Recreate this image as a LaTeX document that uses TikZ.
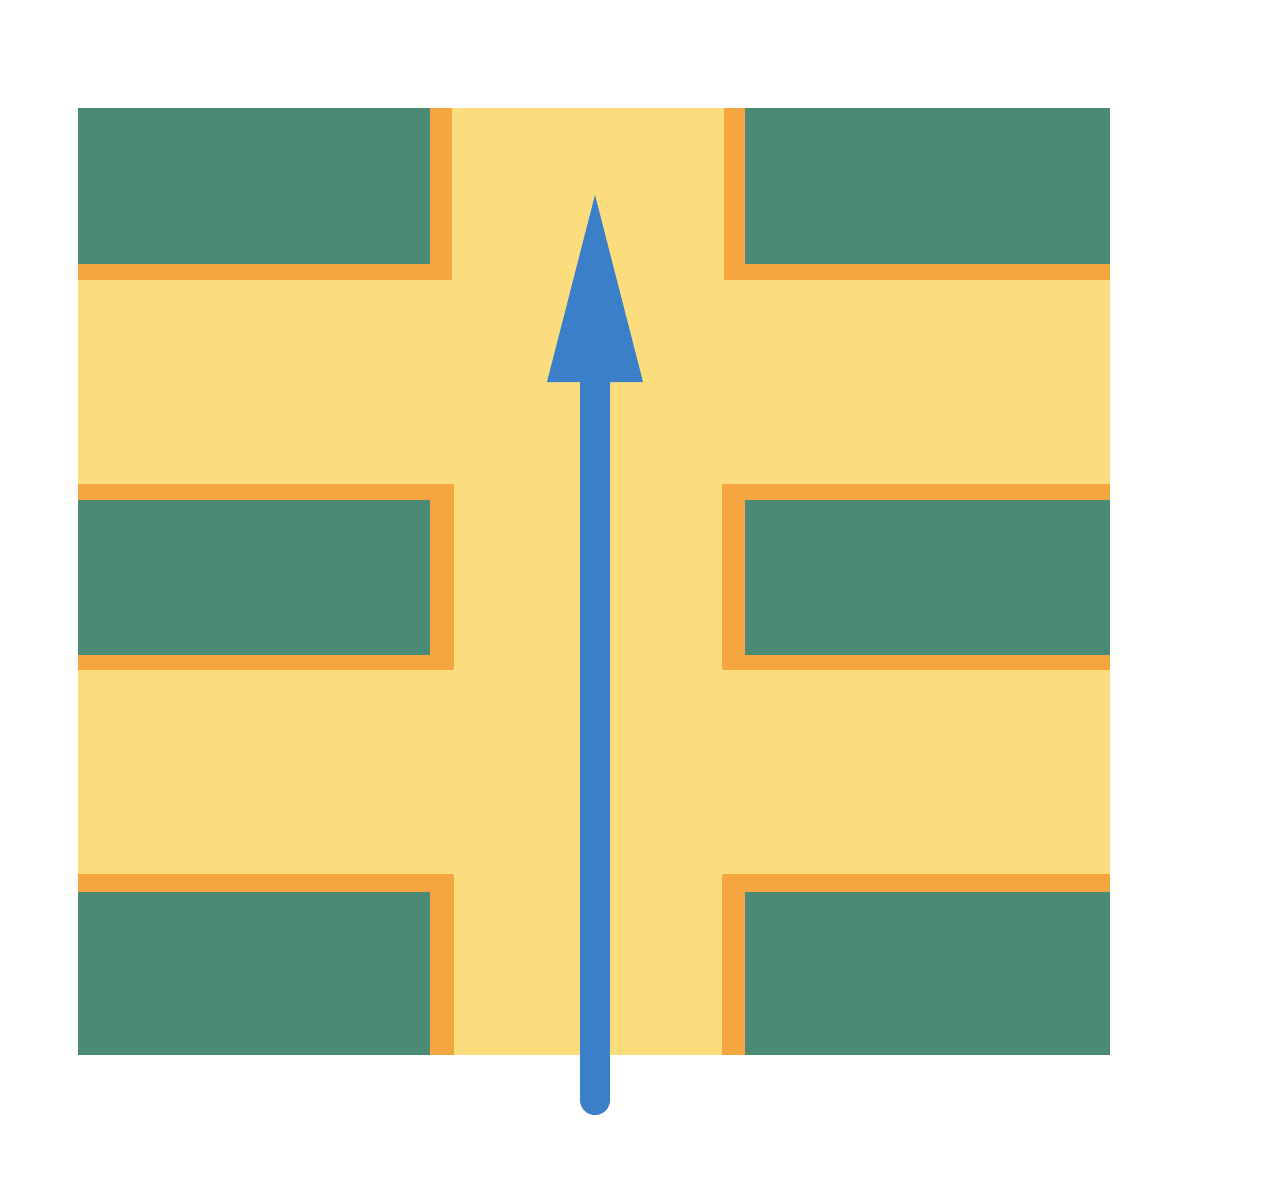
\documentclass[tikz,border=0pt]{standalone}
\usetikzlibrary{arrows.meta}
\definecolor{padyellow}{HTML}{FCDD7E}
\definecolor{padgreen}{HTML}{4B8A74}
\definecolor{padorange}{HTML}{F5A640}
\definecolor{flowblue}{HTML}{3A7FC8}
\begin{document}
\begin{tikzpicture}[x=0.01cm,y=-0.01cm,
  edge/.style={fill=padorange},
  block/.style={fill=padgreen}]
\useasboundingbox (0,0) rectangle (1287,1200);
\fill[white] (0,0) rectangle (1287,1200);
% base
\fill[padyellow] (78,108) rectangle (1110,1055);
% left blocks
\fill[edge] (78,108) rectangle (452,280);
\fill[block] (78,108) rectangle (430,264);
\fill[edge] (78,484) rectangle (454,670);
\fill[block] (78,500) rectangle (430,655);
\fill[edge] (78,874) rectangle (454,1055);
\fill[block] (78,892) rectangle (430,1055);
% right blocks
\fill[edge] (724,108) rectangle (1110,280);
\fill[block] (745,108) rectangle (1110,264);
\fill[edge] (722,484) rectangle (1110,670);
\fill[block] (745,500) rectangle (1110,655);
\fill[edge] (722,874) rectangle (1110,1055);
\fill[block] (745,892) rectangle (1110,1055);
% arrow
\coordinate (tail) at (595,1100);
\coordinate (neck) at (595,380);
\coordinate (tip) at (595,195);
\draw[flowblue,line width=0.3cm,line cap=round] (tail) -- ([yshift=10]neck);
\fill[flowblue] (tip) -- (547,382) -- (643,382) -- cycle;
\end{tikzpicture}
\end{document}
